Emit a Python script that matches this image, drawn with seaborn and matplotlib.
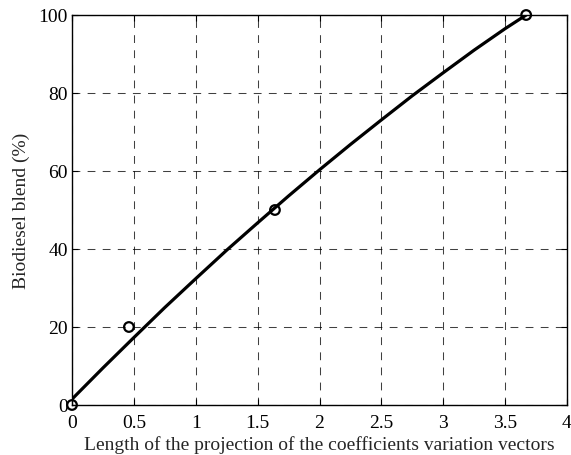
import matplotlib
matplotlib.use("Agg")
import matplotlib.pyplot as plt
import seaborn as sns
import pandas as pd

# Measured points
point_x = [0.0, 0.46, 1.64, 3.67]
point_y = [0, 20, 50, 100]

# Fitted curve
curve_x = [0.0, 0.25, 0.5, 0.75, 1.0, 1.25, 1.5, 1.75, 2.0, 2.25, 2.5, 2.75,
           3.0, 3.25, 3.5, 3.67]
curve_y = [1.5, 9.5, 17.3, 25.0, 32.4, 39.7, 46.7, 53.6, 60.3, 66.8, 73.1,
           79.3, 85.2, 91.0, 96.5, 100]

x_ticks = [0, 0.5, 1, 1.5, 2, 2.5, 3, 3.5, 4]
x_tick_labels = ["0", "0.5", "1", "1.5", "2", "2.5", "3", "3.5", "4"]
y_ticks = [0, 20, 40, 60, 80, 100]
y_tick_labels = ["0", "20", "40", "60", "80", "100"]

sns.set_style("ticks")
plt.rcParams["font.family"] = ["Liberation Serif", "DejaVu Serif"]
FS = 14

fig = plt.figure(figsize=(5.71, 4.56), dpi=100)
ax = fig.add_axes([72 / 571, 1 - 406 / 456, (567 - 72) / 571, (406 - 16) / 456])

curve = pd.DataFrame({"x": curve_x, "y": curve_y})
pts = pd.DataFrame({"x": point_x, "y": point_y})

sns.lineplot(data=curve, x="x", y="y", ax=ax, color="black", linewidth=2.3,
             sort=False, zorder=3)
sns.scatterplot(data=pts, x="x", y="y", ax=ax, marker="o", s=48,
                facecolor="none", edgecolor="black", linewidth=1.6, zorder=4,
                clip_on=False)

ax.set_xlim(0, 4)
ax.set_ylim(0, 100)
ax.set_xticks(x_ticks)
ax.set_xticklabels(x_tick_labels)
ax.set_yticks(y_ticks)
ax.set_yticklabels(y_tick_labels)

ax.grid(True, color="black", linestyle=(0, (7.5, 7.0)), linewidth=0.75, alpha=0.75)
ax.tick_params(direction="in", top=True, right=True, length=4, width=0.8,
               labelsize=FS, pad=3, colors="black")
ax.tick_params(axis="x", pad=6.5)
for s in ax.spines.values():
    s.set_color("black")
    s.set_linewidth(1.0)

ax.set_xlabel("Length of the projection of the coefficients variation vectors",
              fontsize=FS, labelpad=3)
ax.set_ylabel("Biodiesel blend (%)", fontsize=FS, labelpad=6)

fig.savefig("out.png", dpi=100, facecolor="white")
